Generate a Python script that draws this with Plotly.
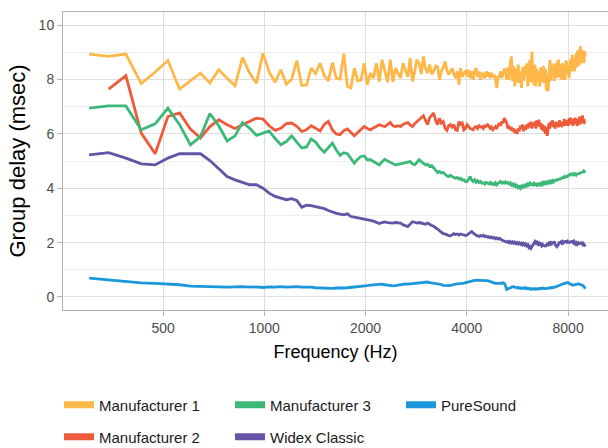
import plotly.graph_objects as go

# Frequency axis: FFT bins of 44100/1024 Hz, bins 7..209
BIN_HZ = 44100 / 1024
BINS = list(range(7, 210))
FREQ_HZ = [round(BIN_HZ * k, 2) for k in BINS]

# Group delay (msec), one value per bin
MANUFACTURER_1 = [
    8.94, 8.85, 8.94, 7.85, 8.28, 8.70, 7.65, 7.95, 8.24, 7.87,
    8.36, 8.05, 7.77, 8.81, 8.24, 7.87, 8.97, 8.28, 7.90, 8.36,
    7.83, 8.00, 8.70, 7.78, 7.80, 8.42, 8.22, 8.60, 8.15, 7.95,
    8.62, 8.05, 8.02, 8.95, 7.75, 7.69, 8.42, 7.95, 7.98, 8.60,
    7.81, 8.24, 8.05, 8.60, 7.93, 8.73, 8.30, 7.90, 8.73, 7.92,
    8.42, 8.20, 8.05, 8.60, 8.36, 8.10, 8.79, 7.93, 8.30, 8.73,
    8.60, 8.20, 8.85, 8.40, 8.24, 8.55, 8.20, 8.30, 8.50, 8.48,
    7.99, 8.30, 8.45, 8.66, 8.35, 8.18, 8.30, 8.42, 8.20, 8.05,
    8.30, 7.81, 8.42, 8.10, 8.24, 8.30, 8.11, 8.36, 8.05, 8.30,
    7.99, 8.30, 8.42, 8.10, 8.30, 7.99, 8.25, 8.18, 8.05, 8.30,
    8.11, 8.28, 8.05, 8.24, 8.10, 8.18, 8.00, 7.69, 8.10, 8.11,
    8.30, 8.05, 8.20, 8.40, 8.30, 8.00, 8.45, 7.99, 8.60, 8.85,
    7.95, 8.50, 7.75, 8.40, 7.90, 8.55, 7.87, 8.30, 7.69, 8.45,
    7.95, 8.50, 8.11, 8.60, 7.75, 8.40, 8.73, 7.90, 9.03, 8.20,
    7.80, 8.55, 7.75, 8.40, 7.95, 8.30, 7.75, 8.45, 7.90, 8.11,
    8.50, 7.87, 8.40, 7.60, 8.20, 7.56, 8.10, 8.73, 7.95, 8.60,
    8.18, 8.50, 7.95, 8.60, 8.36, 8.05, 8.65, 8.73, 8.10, 8.55,
    8.00, 8.30, 8.60, 7.99, 8.50, 7.99, 8.70, 8.60, 8.20, 8.48,
    8.05, 8.48, 8.75, 8.30, 8.91, 8.40, 8.80, 8.30, 8.60, 8.95,
    8.45, 9.05, 8.50, 9.10, 8.55, 9.22, 8.60, 9.10, 8.70, 8.97,
    8.60, 9.05, 8.85,
]

MANUFACTURER_2 = [
    None, 7.65, 8.14, 6.03, 5.27, 6.64, 6.77, 6.18, 5.85, 6.27,
    6.52, 6.34, 6.20, 6.34, 6.46, 6.58, 6.55, 6.30, 6.13, 6.21,
    6.38, 6.40, 6.28, 6.09, 6.15, 6.30, 6.21, 6.11, 6.35, 6.46,
    6.15, 6.00, 5.97, 6.12, 6.18, 6.05, 5.93, 6.05, 6.15, 6.27,
    6.20, 6.15, 6.22, 6.27, 6.34, 6.30, 6.27, 6.35, 6.42, 6.30,
    6.27, 6.30, 6.27, 6.35, 6.40, 6.42, 6.33, 6.27, 6.38, 6.46,
    6.55, 6.62, 6.67, 6.50, 6.34, 6.60, 6.70, 6.77, 6.50, 6.34,
    6.58, 6.40, 6.46, 6.21, 6.13, 6.30, 6.34, 6.25, 6.34, 6.15,
    6.13, 6.46, 6.35, 6.40, 6.15, 6.20, 6.34, 6.27, 6.20, 6.18,
    6.15, 6.25, 6.27, 6.20, 6.30, 6.25, 6.27, 6.20, 6.30, 6.28,
    6.34, 6.30, 6.20, 6.25, 6.15, 6.20, 6.27, 6.22, 6.35, 6.40,
    6.30, 6.45, 6.40, 6.58, 6.50, 6.40, 6.20, 6.30, 6.15, 6.25,
    6.10, 6.20, 6.03, 6.15, 6.00, 6.20, 6.10, 6.30, 6.20, 6.34,
    6.10, 6.30, 6.15, 6.35, 6.20, 6.40, 6.25, 6.45, 6.20, 6.40,
    6.30, 6.45, 6.20, 6.50, 6.30, 6.52, 6.25, 6.40, 6.15, 6.35,
    6.10, 6.30, 6.00, 6.25, 5.93, 6.15, 6.40, 6.20, 6.45, 6.30,
    6.50, 6.25, 6.40, 6.20, 6.45, 6.30, 6.40, 6.25, 6.50, 6.30,
    6.45, 6.25, 6.40, 6.30, 6.55, 6.30, 6.45, 6.35, 6.50, 6.30,
    6.58, 6.35, 6.60, 6.40, 6.45, 6.30, 6.55, 6.35, 6.60, 6.40,
    6.50, 6.30, 6.55, 6.40, 6.64, 6.35, 6.60, 6.45, 6.68, 6.40,
    6.55, 6.40, 6.40,
]

MANUFACTURER_3 = [
    6.95, 7.03, 7.03, 6.15, 6.37, 6.95, 6.34, 5.60, 5.90, 6.75,
    6.30, 5.74, 5.93, 6.42, 6.21, 5.95, 6.03, 6.11, 5.83, 5.60,
    5.72, 5.93, 5.70, 5.48, 5.52, 5.81, 5.70, 5.48, 5.33, 5.48,
    5.66, 5.41, 5.21, 5.31, 5.27, 5.10, 4.92, 5.07, 5.17, 5.19,
    5.05, 5.05, 4.98, 4.92, 4.86, 4.98, 5.07, 5.00, 4.95, 4.92,
    4.86, 4.88, 4.90, 4.92, 4.95, 4.98, 4.98, 4.90, 4.86, 4.95,
    5.05, 4.98, 4.90, 4.86, 4.88, 4.80, 4.84, 4.75, 4.68, 4.58,
    4.62, 4.56, 4.58, 4.50, 4.46, 4.43, 4.48, 4.43, 4.40, 4.37,
    4.40, 4.34, 4.37, 4.30, 4.31, 4.25, 4.25, 4.35, 4.43, 4.30,
    4.25, 4.31, 4.22, 4.28, 4.21, 4.25, 4.19, 4.20, 4.15, 4.22,
    4.19, 4.16, 4.22, 4.15, 4.18, 4.13, 4.20, 4.13, 4.18, 4.22,
    4.25, 4.19, 4.22, 4.19, 4.24, 4.19, 4.21, 4.16, 4.20, 4.12,
    4.16, 4.09, 4.14, 4.06, 4.10, 4.02, 4.06, 4.00, 4.08, 4.04,
    4.10, 4.06, 4.13, 4.09, 4.16, 4.12, 4.19, 4.14, 4.16, 4.12,
    4.18, 4.13, 4.16, 4.11, 4.15, 4.12, 4.17, 4.13, 4.19, 4.14,
    4.21, 4.17, 4.22, 4.18, 4.23, 4.19, 4.25, 4.21, 4.26, 4.22,
    4.28, 4.24, 4.31, 4.25, 4.33, 4.27, 4.35, 4.30, 4.37, 4.31,
    4.40, 4.34, 4.43, 4.36, 4.42, 4.38, 4.46, 4.40, 4.48, 4.43,
    4.52, 4.46, 4.56, 4.48, 4.55, 4.50, 4.53, 4.47, 4.52, 4.49,
    4.55, 4.50, 4.56, 4.52, 4.58, 4.54, 4.60, 4.56, 4.62, 4.58,
    4.64, 4.62, 4.65,
]

WIDEX_CLASSIC = [
    5.23, 5.31, 5.11, 4.90, 4.86, 5.11, 5.27, 5.27, 5.27, 5.02,
    4.70, 4.43, 4.31, 4.21, 4.13, 4.13, 4.00, 3.82, 3.70, 3.64,
    3.58, 3.62, 3.55, 3.30, 3.38, 3.36, 3.33, 3.28, 3.25, 3.18,
    3.12, 3.08, 3.05, 3.02, 3.06, 2.96, 2.94, 2.92, 2.90, 2.86,
    2.84, 2.82, 2.79, 2.74, 2.70, 2.74, 2.76, 2.74, 2.73, 2.72,
    2.74, 2.72, 2.72, 2.66, 2.62, 2.59, 2.68, 2.77, 2.75, 2.72,
    2.74, 2.71, 2.70, 2.68, 2.72, 2.66, 2.63, 2.60, 2.56, 2.50,
    2.44, 2.38, 2.33, 2.32, 2.28, 2.26, 2.25, 2.30, 2.33, 2.30,
    2.32, 2.28, 2.32, 2.30, 2.28, 2.26, 2.28, 2.33, 2.38, 2.41,
    2.36, 2.30, 2.27, 2.25, 2.23, 2.26, 2.24, 2.27, 2.22, 2.24,
    2.20, 2.22, 2.18, 2.21, 2.17, 2.19, 2.14, 2.17, 2.13, 2.16,
    2.12, 2.10, 2.08, 2.06, 2.04, 2.02, 2.05, 2.00, 2.04, 1.99,
    2.03, 1.98, 2.02, 1.96, 2.00, 1.95, 1.99, 1.94, 1.98, 1.92,
    1.97, 1.91, 1.95, 1.88, 1.92, 1.82, 1.86, 1.79, 1.85, 1.92,
    1.98, 2.04, 1.98, 2.02, 1.94, 1.98, 1.90, 1.95, 1.88, 1.93,
    1.86, 1.92, 1.85, 1.90, 1.95, 1.92, 1.98, 1.94, 2.00, 1.96,
    2.03, 1.98, 2.05, 1.92, 1.88, 1.85, 1.90, 1.94, 2.03, 1.97,
    2.02, 1.98, 2.04, 2.00, 2.06, 2.01, 2.07, 2.02, 2.05, 1.99,
    2.04, 1.98, 2.06, 2.01, 2.07, 2.02, 2.05, 1.97, 2.00, 1.95,
    1.99, 1.94, 1.98, 1.93, 2.00, 1.95, 2.02, 1.97, 1.99, 1.92,
    1.94, 1.88, 1.86,
]

PURESOUND = [
    0.69, 0.62, 0.56, 0.52, 0.50, 0.48, 0.45, 0.40, 0.38, 0.38,
    0.37, 0.36, 0.37, 0.38, 0.36, 0.37, 0.35, 0.37, 0.36, 0.38,
    0.36, 0.37, 0.38, 0.36, 0.37, 0.36, 0.34, 0.33, 0.32, 0.33,
    0.32, 0.33, 0.32, 0.33, 0.34, 0.35, 0.37, 0.38, 0.40, 0.41,
    0.42, 0.44, 0.45, 0.47, 0.48, 0.47, 0.45, 0.43, 0.42, 0.41,
    0.42, 0.44, 0.45, 0.46, 0.48, 0.47, 0.48, 0.49, 0.50, 0.51,
    0.52, 0.53, 0.55, 0.56, 0.55, 0.53, 0.52, 0.51, 0.50, 0.48,
    0.49, 0.46, 0.43, 0.42, 0.41, 0.42, 0.43, 0.45, 0.46, 0.47,
    0.48, 0.48, 0.49, 0.50, 0.51, 0.52, 0.53, 0.55, 0.57, 0.58,
    0.60, 0.61, 0.63, 0.62, 0.61, 0.62, 0.61, 0.60, 0.61, 0.60,
    0.60, 0.58, 0.56, 0.55, 0.53, 0.52, 0.50, 0.50, 0.51, 0.52,
    0.51, 0.50, 0.52, 0.50, 0.42, 0.28, 0.30, 0.33, 0.36, 0.38,
    0.37, 0.38, 0.36, 0.34, 0.33, 0.35, 0.32, 0.33, 0.31, 0.33,
    0.32, 0.34, 0.31, 0.33, 0.30, 0.32, 0.29, 0.31, 0.28, 0.30,
    0.29, 0.31, 0.28, 0.30, 0.29, 0.31, 0.30, 0.32, 0.31, 0.33,
    0.31, 0.32, 0.31, 0.33, 0.32, 0.33, 0.32, 0.34, 0.33, 0.35,
    0.34, 0.36, 0.35, 0.37, 0.38, 0.38, 0.40, 0.41, 0.43, 0.44,
    0.45, 0.47, 0.48, 0.49, 0.50, 0.51, 0.52, 0.53, 0.53, 0.52,
    0.50, 0.48, 0.46, 0.45, 0.44, 0.44, 0.45, 0.46, 0.47, 0.47,
    0.48, 0.47, 0.48, 0.48, 0.47, 0.46, 0.46, 0.45, 0.44, 0.42,
    0.38, 0.33, 0.30,
]

SERIES = [
    ("Manufacturer 1", MANUFACTURER_1, "#FDB849"),
    ("Manufacturer 2", MANUFACTURER_2, "#EF5A3B"),
    ("Manufacturer 3", MANUFACTURER_3, "#3CB878"),
    ("Widex Classic", WIDEX_CLASSIC, "#6553A6"),
    ("PureSound", PURESOUND, "#1B98DC"),
]
# legend layout: first row / second row (column-major order in a 3-column grid)
LEGEND_ROWS = [
    ["Manufacturer 1", "Manufacturer 3", "PureSound"],
    ["Manufacturer 2", "Widex Classic"],
]

FONT = "Liberation Sans, Arial, sans-serif"
GRID = "#DEDEDE"
BORDER = "#B3B3B3"

fig = go.Figure()
colors = {}
for name, values, color in SERIES:
    colors[name] = color
    fig.add_trace(go.Scatter(
        x=FREQ_HZ, y=values, mode="lines", name=name,
        line=dict(color=color, width=2.8), showlegend=False,
        connectgaps=False, hoverinfo="skip",
    ))

# legend-only entries drawn as thick colour keys
for row_idx, row in enumerate(LEGEND_ROWS):
    legend_id = "legend" if row_idx == 0 else "legend2"
    for name in row:
        fig.add_trace(go.Scatter(
            x=[None], y=[None], mode="lines", name=name,
            line=dict(color=colors[name], width=7),
            legend=legend_id, showlegend=True,
        ))

legend_common = dict(
    orientation="h", entrywidth=126, entrywidthmode="pixels",
    xref="container", yref="container", xanchor="left", yanchor="middle",
    font=dict(family=FONT, size=15, color="#1A1A1A"),
    bgcolor="rgba(0,0,0,0)", itemwidth=30, itemclick=False,
    itemdoubleclick=False,
)

fig.update_layout(
    width=608, height=448,
    margin=dict(l=63, r=0, t=12, b=138),
    paper_bgcolor="white", plot_bgcolor="white",
    font=dict(family=FONT),
    legend=dict(**legend_common, x=59 / 608, y=(448 - 405) / 448),
    legend2=dict(**legend_common, x=59 / 608, y=(448 - 437) / 448),
    xaxis=dict(
        type="log", range=[2.4015, 4.0217],
        tickvals=[500, 1000, 2000, 4000, 8000],
        ticktext=["500", "1000", "2000", "4000", "8000"],
        showgrid=True, gridcolor=GRID, gridwidth=1,
        showline=True, linecolor=BORDER, linewidth=1, mirror=True,
        ticks="outside", ticklen=5, tickcolor=BORDER,
        tickfont=dict(family=FONT, size=14, color="#4D4D4D"),
        title=dict(text="Frequency (Hz)", standoff=10,
                   font=dict(family=FONT, size=18, color="#000000")),
        zeroline=False,
    ),
    yaxis=dict(
        range=[-0.479, 10.486],
        tickvals=[0, 2, 4, 6, 8, 10],
        showgrid=True, gridcolor=GRID, gridwidth=1,
        minor=dict(dtick=1, tick0=0, showgrid=True, gridcolor="#EEEEEE", gridwidth=0.6),
        showline=True, linecolor=BORDER, linewidth=1, mirror=False,
        ticks="outside", ticklen=5, tickcolor=BORDER,
        tickfont=dict(family=FONT, size=14, color="#4D4D4D"),
        title=dict(text="Group delay (msec)", standoff=6,
                   font=dict(family=FONT, size=22, color="#000000")),
        zeroline=False,
    ),
)

fig.write_html("out.html", config={"displayModeBar": False})
